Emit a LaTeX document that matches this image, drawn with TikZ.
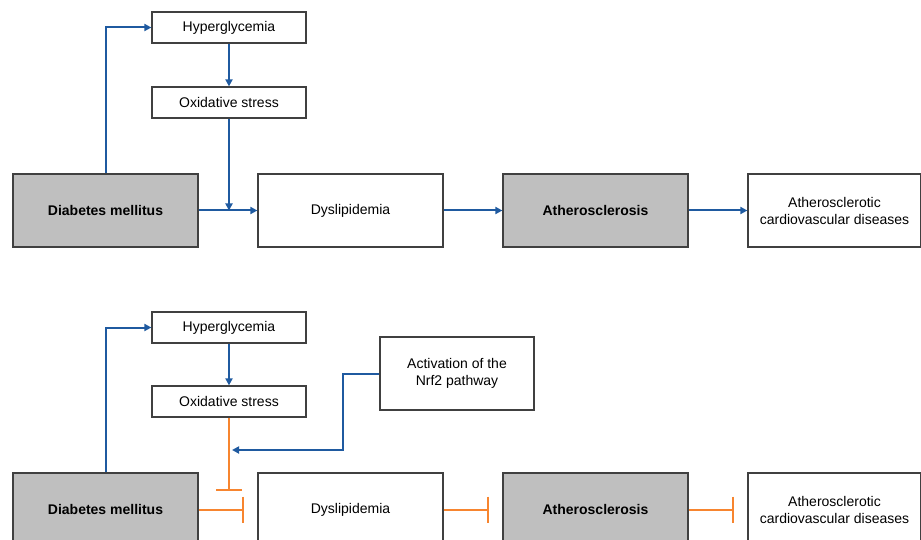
\documentclass[tikz,border=0pt]{standalone}
\usepackage{fontspec}
\setmainfont{Liberation Sans}
\usepackage{xcolor}
\usepackage{tikz}
\usetikzlibrary{arrows.meta}
\definecolor{pathblue}{HTML}{1F5AA0}
\definecolor{inhorange}{HTML}{F7852F}
\definecolor{boxgray}{HTML}{BFBFBF}

\begin{document}
\begin{tikzpicture}[x=1pt,y=-1pt,
    box/.style={draw=black!75,line width=1.2pt,inner sep=0pt,align=center,
      font=\fontsize{14}{17}\selectfont},
    small/.style={box,minimum width=154pt,minimum height=31pt},
    big/.style={box,minimum width=185pt,minimum height=73pt},
    grey/.style={big,fill=boxgray,font=\fontsize{14}{17}\selectfont\bfseries},
    act/.style={pathblue,line width=2pt,-{Triangle[length=7pt,width=7pt]}},
    inh/.style={inhorange,line width=2pt,-{Bar[width=26pt]},shorten >=13pt}]
    \clip (0,0) rectangle (921,540);
    \begin{scope}
      \node[small] (hyper) at (229,27.5) {Hyperglycemia};
      \node[small] (oxi) at (229,102.5) {Oxidative stress};
      \node[grey] (dm) at (105.5,210.5) {Diabetes mellitus};
      \node[big] (dys) at (350.5,210.5) {Dyslipidemia};
      \node[grey] (ath) at (595.5,210.5) {Atherosclerosis};
      \node[big,minimum width=173pt] (ascvd) at (834.5,210.5)
        {Atherosclerotic\\cardiovascular diseases};
      \draw[act] (dm.north) |- (hyper.west);
      \draw[act] (hyper) -- (oxi);
      \draw[act] (oxi.south) -- (oxi.south |- dm.east);
      \draw[act] (dm) -- (dys);
      \draw[act] (dys) -- (ath);
      \draw[act] (ath) -- (ascvd);
    \end{scope}
    \begin{scope}[shift={(0,299)}]
      \node[small] (hyper2) at (229,28.5) {Hyperglycemia};
      \node[small] (oxi2) at (229,102.5) {Oxidative stress};
      \node[small,minimum height=73pt] (nrf) at (457,74.5)
        {Activation of the\\Nrf2 pathway};
      \node[grey] (dm2) at (105.5,210.5) {Diabetes mellitus};
      \node[big] (dys2) at (350.5,210.5) {Dyslipidemia};
      \node[grey] (ath2) at (595.5,210.5) {Atherosclerosis};
      \node[big,minimum width=173pt] (ascvd2) at (834.5,210.5)
        {Atherosclerotic\\cardiovascular diseases};
      \coordinate (block) at (229,192);
      \coordinate (tip) at (232,151);
      \draw[act] (dm2.north) |- (hyper2.west);
      \draw[act] (hyper2) -- (oxi2);
      \draw[inh,shorten >=0pt] (oxi2.south) -- (block);
      \draw[act] (nrf.west) -- ++(-36,0) |- (tip);
      \draw[inh] (dm2) -- (dys2);
      \draw[inh] (dys2) -- (ath2);
      \draw[inh] (ath2) -- (ascvd2);
    \end{scope}
\end{tikzpicture}
\end{document}
